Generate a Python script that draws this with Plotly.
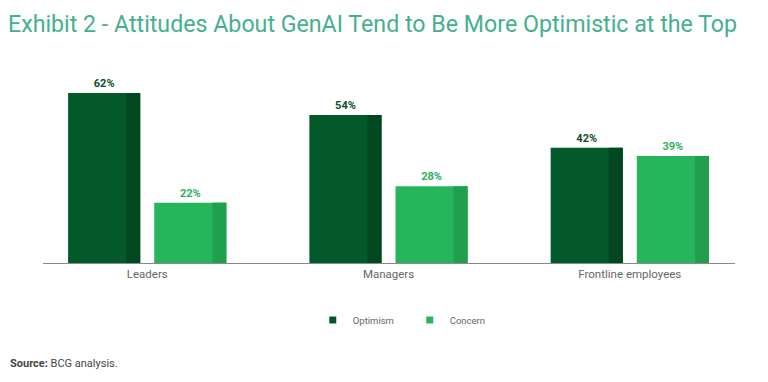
import plotly.graph_objects as go

categories = ["Leaders", "Managers", "Frontline employees"]
optimism = [62, 54, 42]
concern = [22, 28, 39]
series_names = ["Optimism", "Concern"]

xs = list(range(len(categories)))

C_OPT = "#03592A"
C_OPT_SH = "#01471F"
C_CON = "#27B55C"
C_CON_SH = "#20A04F"

BW = 0.299
SW = 0.058
OFF_OPT = -0.328
OFF_CON = 0.029

fig = go.Figure()

def add_series(vals, name, color, shade, off, tcolor):
    fig.add_trace(go.Bar(
        x=xs, y=vals, name=name, showlegend=False,
        marker=dict(color=color, line=dict(width=0)),
        width=BW, offset=off,
        text=[f"<b>{v}%</b>" for v in vals], textposition="outside",
        textfont=dict(family="Roboto", size=11, color=tcolor),
        cliponaxis=False, hoverinfo="skip"))
    fig.add_trace(go.Bar(
        x=xs, y=vals, showlegend=False, marker=dict(color=shade, line=dict(width=0)),
        width=SW, offset=off + BW - SW, hoverinfo="skip"))
    # legend entry with a small square swatch
    fig.add_trace(go.Scatter(
        x=[None], y=[None], mode="markers", name=name,
        marker=dict(symbol="square", size=7, color=color), hoverinfo="skip"))

add_series(optimism, series_names[0], C_OPT, C_OPT_SH, OFF_OPT, "#0E4F2C")
add_series(concern, series_names[1], C_CON, C_CON_SH, OFF_CON, "#2DB15E")

fig.update_layout(
    width=760, height=366,
    margin=dict(l=35, r=33, t=63, b=111),
    barmode="overlay",
    plot_bgcolor="white", paper_bgcolor="white",
    font=dict(family="Roboto", color="#555"),
    title=dict(text="Exhibit 2 - Attitudes About GenAI Tend to Be More Optimistic at the Top",
               x=0.0, xanchor="left", y=0.956, yanchor="middle",
               font=dict(family="Roboto", size=23.2, color="#45B08F")),
    showlegend=True,
    legend=dict(orientation="h", x=0.53, xanchor="center", y=-0.297, yanchor="middle",
                font=dict(size=9.5, color="#666"), entrywidth=52, entrywidthmode="pixels",
                traceorder="normal"),
    xaxis=dict(range=[-0.432, 2.436], tickvals=xs, ticktext=categories,
               showline=True, linecolor="#8a8a8a", linewidth=1, showgrid=False,
               ticks="", tickfont=dict(size=11.5, color="#666"), zeroline=False),
    yaxis=dict(range=[0, 70], visible=False, showgrid=False),
)

fig.add_annotation(text="<b>Source:</b> BCG analysis.", xref="paper", yref="paper",
                   x=-0.0506, xanchor="left", y=-0.526, yanchor="middle", showarrow=False,
                   font=dict(family="Roboto", size=11, color="#444"))

fig.write_html("out.html")
